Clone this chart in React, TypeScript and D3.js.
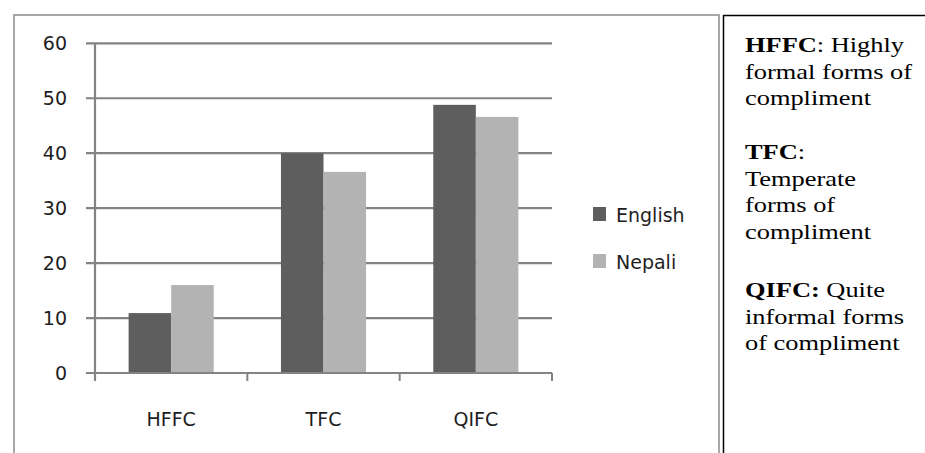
import React from "react";
import * as d3 from "d3";

const categories = ["HFFC", "TFC", "QIFC"];
const seriesNames = ["English", "Nepali"];
const englishValues = [10.9, 40, 48.8];
const nepaliValues = [16, 36.6, 46.6];
const yTicks = [0, 10, 20, 30, 40, 50, 60];
const seriesColors = ["#5e5e5e", "#b3b3b3"];

const noteLines: { bold: string; rest: string; y: number }[] = [
  { bold: "HFFC", rest: ": Highly", y: 52 },
  { bold: "", rest: "formal forms of", y: 79 },
  { bold: "", rest: "compliment", y: 105 },
  { bold: "TFC", rest: ":", y: 159 },
  { bold: "", rest: "Temperate", y: 186 },
  { bold: "", rest: "forms of", y: 212 },
  { bold: "", rest: "compliment", y: 239 },
  { bold: "QIFC:", rest: " Quite", y: 297 },
  { bold: "", rest: "informal forms", y: 324 },
  { bold: "", rest: "of compliment", y: 350 },
];

export default function App() {
  const W = 925;
  const H = 453;
  const plotLeft = 95;
  const plotRight = 552;
  const plotTop = 43.3;
  const plotBottom = 373;

  const x0 = d3.scaleBand<string>().domain(categories).range([plotLeft, plotRight]).paddingInner(0).paddingOuter(0);
  const x1 = d3
    .scaleBand<string>()
    .domain(seriesNames)
    .range([0, x0.bandwidth()])
    .paddingInner(0)
    .paddingOuter(0.79);
  const y = d3.scaleLinear().domain([0, 60]).range([plotBottom, plotTop]);

  const seriesData = [englishValues, nepaliValues];
  const gridColor = "#838383";
  const chartFont = "DejaVu Sans, sans-serif";
  const textColor = "#1e1e1e";
  const chartFontSize = 19;

  const xTickPositions = [...categories.map((c) => x0(c) as number), plotRight];

  return (
    <div style={{ position: "absolute", left: 0, top: 0 }}>
      <svg width={W} height={H} style={{ display: "block", background: "#fff" }}>
        {/* chart frame */}
        <rect x={14} y={15} width={705} height={460} fill="#fff" stroke="#8c8c8c" strokeWidth={1.5} />
        {/* gridlines */}
        {yTicks.map((t) => (
          <line key={"g" + t} x1={86} x2={plotRight} y1={y(t)} y2={y(t)} stroke={gridColor} strokeWidth={2.2} />
        ))}
        {/* y axis */}
        <line x1={plotLeft} x2={plotLeft} y1={plotTop} y2={plotBottom + 8} stroke={gridColor} strokeWidth={2.2} />
        {/* x ticks */}
        {xTickPositions.map((xp, i) => (
          <line key={"xt" + i} x1={xp} x2={xp} y1={plotBottom} y2={plotBottom + 8} stroke={gridColor} strokeWidth={2} />
        ))}
        {/* bars */}
        {categories.map((c, ci) =>
          seriesNames.map((s, si) => {
            const v = seriesData[si][ci];
            const bx = (x0(c) as number) + (x1(s) as number);
            return (
              <rect
                key={c + s}
                x={bx}
                y={y(v)}
                width={x1.bandwidth()}
                height={plotBottom - y(v)}
                fill={seriesColors[si]}
              />
            );
          })
        )}
        {/* x axis baseline */}
        <line x1={86} x2={plotRight} y1={plotBottom} y2={plotBottom} stroke={gridColor} strokeWidth={2.2} />
        {/* y tick labels */}
        {yTicks.map((t) => (
          <text
            key={"yl" + t}
            x={67}
            y={y(t)}
            dy="0.36em"
            textAnchor="end"
            fontFamily={chartFont}
            fontSize={chartFontSize}
            fill={textColor}
          >
            {t}
          </text>
        ))}
        {/* category labels */}
        {categories.map((c) => (
          <text
            key={"cl" + c}
            x={(x0(c) as number) + x0.bandwidth() / 2}
            y={426}
            textAnchor="middle"
            fontFamily={chartFont}
            fontSize={chartFontSize}
            fill={textColor}
          >
            {c}
          </text>
        ))}
        {/* legend */}
        {seriesNames.map((s, i) => (
          <g key={"lg" + s} transform={`translate(593, ${207 + i * 47})`}>
            <rect x={0} y={0} width={13} height={14} fill={seriesColors[i]} />
            <text x={23} y={15} fontFamily={chartFont} fontSize={chartFontSize} fill={textColor}>
              {s}
            </text>
          </g>
        ))}
        {/* note box */}
        <line x1={723.5} x2={723.5} y1={15} y2={H} stroke="#000" strokeWidth={1.5} />
        <line x1={723} x2={W} y1={15.5} y2={15.5} stroke="#000" strokeWidth={1.5} />
        {noteLines.map((l, i) => (
          <text
            key={"n" + i}
            transform={`translate(745, ${l.y}) scale(1.2, 1)`}
            fontFamily="Liberation Serif, Times New Roman, serif"
            fontSize={22}
            fill="#000"
          >
            {l.bold ? <tspan fontWeight="bold">{l.bold}</tspan> : null}
            <tspan>{l.rest}</tspan>
          </text>
        ))}
      </svg>
    </div>
  );
}
